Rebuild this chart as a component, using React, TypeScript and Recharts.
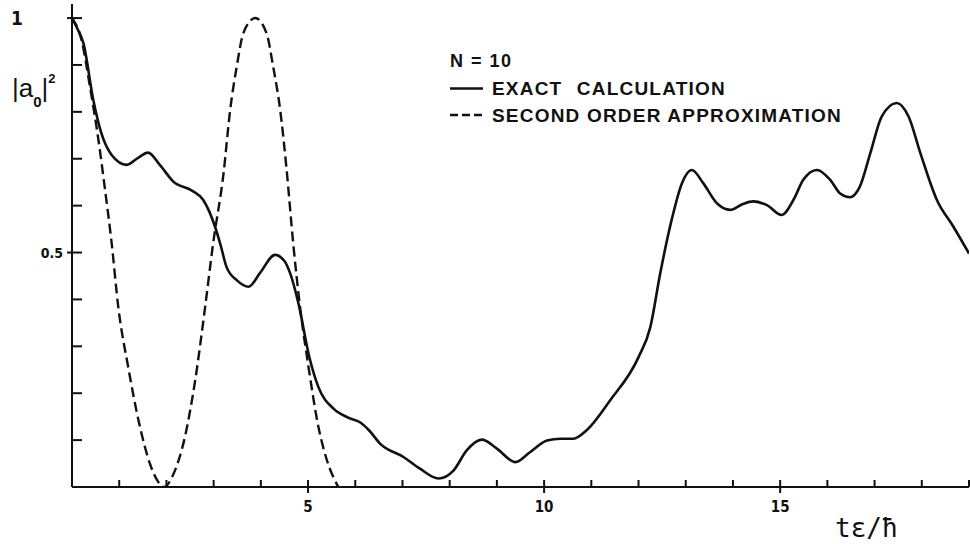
import { LineChart, Line, XAxis, YAxis } from "recharts";

const INK = "#111111";
const NARROW = "'Liberation Sans Narrow', 'DejaVu Sans Condensed', 'Liberation Sans', Arial, sans-serif";
const SANS = "'Liberation Sans', Arial, sans-serif";

// exact calculation, |a0|^2 against t*eps/hbar
const exactT = [
  0, 0.12, 0.24, 0.45, 0.62, 0.84, 1.16, 1.4, 1.61, 1.86, 2.15, 2.54, 2.78, 3.03, 3.15, 3.27,
  3.5, 3.74, 3.98, 4.3, 4.5, 4.62, 4.8, 5.02, 5.22, 5.54, 5.85, 6.1, 6.3, 6.53, 7.02, 7.37,
  7.76, 8.08, 8.36, 8.68, 9.0, 9.39, 9.7, 10.06, 10.35, 10.62, 10.9, 11.4, 12.0, 12.25, 12.46,
  12.7, 12.92, 13.13, 13.37, 13.66, 13.94, 14.2, 14.43, 14.72, 15.03, 15.28, 15.49, 15.78,
  16.06, 16.27, 16.48, 16.69, 16.91, 17.15, 17.47, 17.72, 17.97, 18.32, 18.67, 19.0,
];
const exactV = [
  1.0, 0.976, 0.947, 0.826, 0.755, 0.708, 0.687, 0.702, 0.713, 0.687, 0.651, 0.632, 0.612,
  0.555, 0.515, 0.47, 0.44, 0.427, 0.456, 0.495, 0.482, 0.456, 0.39, 0.28, 0.213, 0.167, 0.148,
  0.138, 0.12, 0.092, 0.064, 0.039, 0.018, 0.035, 0.078, 0.101, 0.082, 0.053, 0.074, 0.099,
  0.103, 0.103, 0.121, 0.185, 0.277, 0.341, 0.456, 0.569, 0.648, 0.676, 0.648, 0.605, 0.591,
  0.603, 0.609, 0.601, 0.58, 0.612, 0.655, 0.676, 0.655, 0.626, 0.618, 0.641, 0.712, 0.79,
  0.819, 0.79, 0.712, 0.612, 0.555, 0.498,
];

// second order approximation
const approxT = [
  0, 0.2, 0.38, 0.56, 0.7, 0.84, 0.98, 1.19, 1.44, 1.65, 1.8, 1.95, 2.15, 2.39, 2.61, 2.82,
  2.99, 3.21, 3.35, 3.49, 3.63, 3.88, 4.12, 4.26, 4.41, 4.54, 4.69, 4.83, 5.01, 5.22, 5.4, 5.64,
];
const approxV = [
  1.0, 0.954, 0.854, 0.74, 0.634, 0.52, 0.384, 0.256, 0.128, 0.05, 0.015, 0.0, 0.028, 0.106,
  0.228, 0.384, 0.52, 0.669, 0.804, 0.897, 0.968, 1.0, 0.968, 0.897, 0.804, 0.683, 0.515,
  0.384, 0.256, 0.128, 0.057, 0.0,
];

const xTicks = [1, 2, 3, 4, 5, 6, 7, 8, 9, 10, 11, 12, 13, 14, 15, 16, 17, 18, 19];
const xMajor = [5, 10, 15];
const yTicks = [0.1, 0.2, 0.3, 0.4, 0.5, 0.6, 0.7, 0.8, 0.9, 1.0];

const exactData = exactT.map((t, i) => ({ t, v: exactV[i] }));
const approxData = approxT.map((t, i) => ({ t, v: approxV[i] }));

function XTick(props: any) {
  const { x, y, payload } = props;
  const major = xMajor.includes(payload.value);
  return (
    <g>
      <line x1={x} x2={x} y1={major ? y + 6 : y} y2={y - 7} stroke={INK} strokeWidth={2} />
      {major && (
        <text x={x} y={y + 25} textAnchor="middle" fontFamily={NARROW} fontWeight="bold" fontSize={15} fill={INK}>
          {payload.value}
        </text>
      )}
    </g>
  );
}

function YTick(props: any) {
  const { x, y, payload } = props;
  const v = payload.value;
  const major = v === 1 || v === 0.5;
  return (
    <g>
      <line x1={major ? x - 5 : x} x2={x + 10} y1={y} y2={y} stroke={INK} strokeWidth={2} />
      {v === 1 && (
        <text x={x - 49} y={y + 7} textAnchor="end" fontFamily={NARROW} fontWeight="bold" fontSize={19} fill={INK}>
          1
        </text>
      )}
      {v === 0.5 && (
        <text x={x - 9} y={y + 5} textAnchor="end" fontFamily={NARROW} fontWeight="bold" fontSize={14} fill={INK}>
          0.5
        </text>
      )}
    </g>
  );
}

export default function App() {
  return (
    <div style={{ position: "absolute", left: 0, top: 0, width: 970, height: 544, background: "#fff" }}>
      <LineChart width={970} height={544} margin={{ top: 4, right: 1, bottom: 56, left: 71 }}>
        <XAxis
          type="number"
          dataKey="t"
          domain={[0, 19]}
          ticks={xTicks}
          interval={0}
          height={1}
          tickSize={0}
          tickMargin={0}
          tick={XTick}
          axisLine={{ stroke: INK, strokeWidth: 2 }}
          allowDataOverflow
        />
        <YAxis
          type="number"
          domain={[0, 1.03]}
          ticks={yTicks}
          interval={0}
          width={1}
          tickSize={0}
          tickMargin={0}
          tick={YTick}
          axisLine={{ stroke: INK, strokeWidth: 2 }}
          allowDataOverflow
        />
        <Line
          data={exactData}
          dataKey="v"
          type="monotone"
          stroke={INK}
          strokeWidth={2.6}
          dot={false}
          isAnimationActive={false}
        />
        <Line
          data={approxData}
          dataKey="v"
          type="monotone"
          stroke={INK}
          strokeWidth={2.4}
          strokeDasharray="10 5"
          dot={false}
          isAnimationActive={false}
        />
      </LineChart>

      {/* labels and legend drawn on top */}
      <svg width={970} height={544} style={{ position: "absolute", left: 0, top: 0, pointerEvents: "none" }}>
        <text x={12} y={97} fontFamily={SANS} fontSize={26} fill={INK}>
          |a
          <tspan fontSize={15} fontWeight="bold" dy={10}>0</tspan>
          <tspan fontSize={26} dy={-10}>|</tspan>
          <tspan fontSize={13} fontWeight="bold" dy={-14}>2</tspan>
        </text>

        <text x={450} y={67} fontFamily={SANS} fontWeight="bold" fontSize={18} letterSpacing={1.5} fill={INK}>
          N = 10
        </text>
        <line x1={450} x2={483} y1={88.5} y2={88.5} stroke={INK} strokeWidth={2.5} />
        <text x={492} y={95} fontFamily={SANS} fontWeight="bold" fontSize={19} letterSpacing={1.2} wordSpacing={8} fill={INK}>
          EXACT CALCULATION
        </text>
        <line x1={450} x2={483} y1={115} y2={115} stroke={INK} strokeWidth={2.5} strokeDasharray="8 4" />
        <text x={492} y={122} fontFamily={SANS} fontWeight="bold" fontSize={19} letterSpacing={1.2} fill={INK}>
          SECOND ORDER APPROXIMATION
        </text>

        <text x={835} y={537} fontFamily="'DejaVu Sans Mono', monospace" fontSize={26} fill={INK}>
          tε/ħ
        </text>
      </svg>
    </div>
  );
}
